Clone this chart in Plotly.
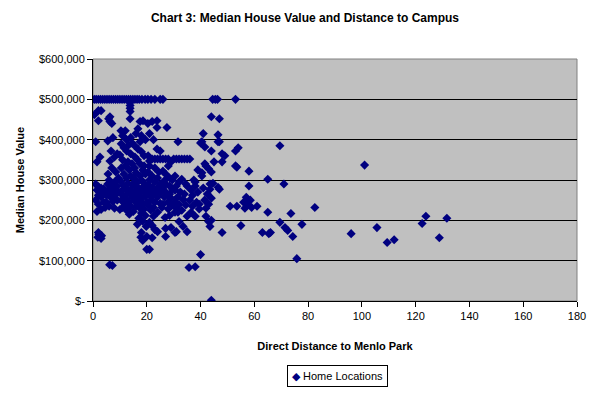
import plotly.graph_objects as go

# ---- data (distance in miles, median value in $1000s) ----
dist_top = [0.5, 1.2, 2, 2.8, 3.6, 4.4, 5.2, 6, 6.8, 7.6, 8.4, 9.2, 10, 10.8, 11.6, 12.4,
            13.2, 14, 14.8, 15.6, 16.4, 17.2, 18.2, 19.4, 20.4, 21.6, 23, 25, 26, 44.5, 45.5, 46.3, 53]
val_top = [500] * len(dist_top)

dist_a = [2, 3, 2, 0.5, 1, 2.6, 1.5, 1, 2, 3, 4, 1.5, 2.5, 3.5, 4.5, 2, 3, 1, 4, 2, 3, 4.5, 1.5,
          2, 2.6, 1.8, 3.2, 2.2, 3]
val_a = [472, 472, 447, 462, 395, 357, 345, 290, 283, 280, 278, 275, 270, 268, 272, 262, 258, 250,
         245, 240, 227, 232, 222, 170, 160, 158, 162, 165, 155]

dist_b = [6.3, 6.3, 5.8, 7, 5.5, 7.4, 6.7, 8, 6.3, 9, 5.6, 7, 8.5, 9.5, 6, 8, 5.5, 7, 9, 6, 7.5,
          8.5, 9.5, 5, 6.5, 8, 7.4, 5, 9, 6, 8, 10, 6.2, 7.2]
val_b = [457, 445, 452, 440, 397, 405, 372, 357, 347, 365, 315, 330, 320, 305, 300, 295, 290, 285,
         285, 275, 270, 275, 270, 262, 258, 262, 247, 245, 250, 235, 230, 227, 90, 88]

dist_c = [13.8, 13.8, 13.8, 13.8, 13.8, 10.4, 12, 14, 11, 12.5, 10.5, 13, 14.5, 11.5, 12.5, 10, 14,
          11, 13, 12, 14.5, 10.5, 13.5, 11.5, 14, 12.5, 10.4, 13, 14.5, 11.5, 12.5, 10.5, 14, 13,
          11, 12, 14.5, 10.5, 13.5, 12, 11, 14, 12.5, 13.5]
val_c = [492, 485, 478, 470, 452, 422, 422, 405, 410, 400, 390, 385, 392, 380, 372, 362, 365, 350,
         345, 335, 340, 330, 325, 315, 310, 305, 297, 292, 288, 285, 278, 272, 275, 268, 262, 255,
         258, 250, 245, 240, 232, 235, 225, 215]

dist_d = [17.5, 18.6, 16.7, 16, 18, 15.6, 16.7, 19, 17.5, 19.5, 15.5, 18, 16.5, 17.5, 19, 15.5,
          18.5, 16, 17.5, 19.5, 15, 18, 16.5, 19, 15.5, 17, 18.5, 20, 16, 17.5, 19, 15, 16.8, 18.2,
          19.6, 15.5, 17, 18.5, 20, 16, 17.5, 19, 15, 18, 19.5, 17, 18.5, 16.5, 19.8, 18, 20, 17.8,
          18.5]
val_d = [445, 447, 427, 415, 410, 357, 377, 360, 395, 400, 385, 370, 350, 340, 335, 330, 325, 318,
         310, 315, 305, 300, 295, 292, 285, 280, 282, 280, 270, 268, 272, 262, 258, 255, 260, 248,
         245, 242, 245, 235, 230, 228, 222, 218, 212, 205, 198, 190, 185, 170, 160, 158, 150]

dist_e = [20.4, 22, 23.8, 23.8, 21, 22.5, 23.8, 25, 21, 20.5, 22, 23, 24, 25, 21, 23, 24.5, 20.5,
          22, 24, 21, 23, 25, 20.5, 22, 24, 21, 23, 25, 20.5, 22, 24, 21.5, 23, 25, 20.5, 22.5,
          25.6, 21.5, 24, 21, 22, 23, 24, 22, 21, 20, 22.5]
val_e = [440, 445, 447, 430, 415, 400, 377, 372, 347, 360, 352, 352, 352, 352, 335, 330, 320, 320,
         310, 305, 300, 295, 290, 288, 282, 280, 275, 270, 268, 265, 260, 258, 250, 245, 242, 238,
         232, 232, 225, 220, 195, 187, 177, 172, 157, 128, 128, 210]

dist_f = [27.5, 26, 27, 28, 26, 28, 29, 27, 28.5, 26.5, 29.5, 27, 28.5, 26, 29.5, 27, 28.5, 26.5,
          29, 27.8, 26, 29.5, 28, 26.8, 29, 27, 27, 28.5]
val_f = [430, 352, 352, 352, 322, 335, 345, 315, 305, 298, 300, 290, 285, 280, 278, 270, 265, 258,
         255, 245, 240, 238, 228, 207, 182, 180, 160, 212]

dist_g = [30, 31, 32, 33, 34, 35, 36, 31.6, 30.5, 33, 32, 34.5, 31, 35, 30.5, 32.5, 34, 31.5, 33.5,
          30.5, 32, 34.5, 31, 33, 30.5, 35, 32, 31.6, 31, 30.5, 35, 33.5]
val_g = [352, 352, 352, 352, 352, 352, 352, 395, 310, 302, 295, 290, 285, 285, 275, 270, 265, 258,
         252, 245, 240, 238, 230, 225, 220, 210, 197, 220, 172, 170, 172, 185]

dist_h = [38, 36.5, 38, 37, 39, 36, 38.5, 37, 39.5, 36.5, 38, 40, 40.5, 40.5, 40, 35.7, 38, 39.5,
          37.5, 39]
val_h = [295, 275, 285, 262, 270, 250, 245, 235, 228, 220, 210, 392, 395, 310, 115, 83, 85, 240,
         300, 325]

dist_i = [41, 41.6, 44, 44, 41.6, 42, 43, 40.5, 44, 45, 44.6, 43.5, 43.5, 41, 42.5, 44, 41.5, 43,
          42, 43, 43.5, 44, 42, 44]
val_i = [415, 382, 457, 372, 340, 335, 328, 318, 320, 345, 292, 290, 277, 280, 265, 255, 250, 240,
         230, 197, 185, 200, 210, 2]

dist_j = [47, 46.5, 46.5, 47, 48, 49, 53, 54, 48, 53, 53.5, 47, 46.5, 48, 51, 53.5, 58, 58, 57, 56,
          57.5, 58.5, 59, 61, 55, 63, 66, 65, 65, 56.5]
val_j = [452, 412, 395, 395, 365, 360, 372, 380, 345, 335, 332, 277, 282, 170, 235, 235, 322, 285,
         257, 245, 240, 250, 232, 235, 187, 170, 170, 302, 220, 230]

dist_k = [69.5, 101, 71, 73.6, 82.5, 69.5, 71.4, 72.4, 77.7, 65.4, 74.3, 75.8, 96, 105.6, 109.4,
          112, 122.4, 123.8, 128.8, 131.6]
val_k = [385, 337, 290, 217, 232, 195, 182, 175, 190, 167, 160, 105, 167, 182, 145, 152, 192, 210,
         157, 205]

distance = (dist_top + dist_a + dist_b + dist_c + dist_d + dist_e + dist_f + dist_g + dist_h
            + dist_i + dist_j + dist_k)
value_k = (val_top + val_a + val_b + val_c + val_d + val_e + val_f + val_g + val_h + val_i
           + val_j + val_k)
median_value = [v * 1000 for v in value_k]

y_tickvals = [0, 100000, 200000, 300000, 400000, 500000, 600000]
y_ticktext = ["$-", "$100,000", "$200,000", "$300,000", "$400,000", "$500,000", "$600,000"]
x_tickvals = [0, 20, 40, 60, 80, 100, 120, 140, 160, 180]
series_name = "Home Locations"

FONT = "Liberation Sans, Arial, sans-serif"
NAVY = "#000080"

fig = go.Figure()
fig.add_trace(go.Scatter(
    x=distance, y=median_value, mode="markers", name=series_name, showlegend=False,
    marker=dict(symbol="diamond", size=7, color=NAVY, line=dict(width=0)),
))

# page body has an 8px margin, so the figure is sized/offset to compensate
fig.update_layout(
    width=597, height=385,
    margin=dict(l=85, r=28, t=51, b=92, autoexpand=False),
    paper_bgcolor="white", plot_bgcolor="#C0C0C0",
    font=dict(family=FONT, size=11, color="black"),
    title=dict(text="<b>Chart 3: Median House Value and Distance to Campus</b>",
               x=0.4975, xref="container", xanchor="center", y=0.975, yref="container",
               yanchor="middle", automargin=False,
               font=dict(family=FONT, size=12, color="black")),
    xaxis=dict(range=[0, 180], tickvals=x_tickvals, ticks="outside", ticklen=5,
               tickcolor="black", showline=True, linecolor="black", linewidth=1,
               showgrid=False, zeroline=False, automargin=False,
               title=dict(text="<b>Direct Distance to Menlo Park</b>", standoff=21,
                          font=dict(family=FONT, size=11, color="black"))),
    yaxis=dict(range=[0, 600000], tickvals=y_tickvals, ticktext=y_ticktext, ticks="outside",
               ticklen=5, tickcolor="black", showline=True, linecolor="black", linewidth=1,
               showgrid=True, gridcolor="black", gridwidth=1, zeroline=False, automargin=False,
               title=dict(text="<b>Median House Value</b>", standoff=12,
                          font=dict(family=FONT, size=11, color="black"))),
    shapes=[dict(type="rect", xref="paper", yref="paper", x0=0, x1=1, y0=0, y1=1,
                 line=dict(color="#808080", width=1), layer="below")],
    annotations=[dict(text=f"<span style='color:{NAVY}'>◆</span> {series_name}",
                      xref="paper", yref="paper", x=0.506, y=-0.31, xanchor="center",
                      yanchor="middle", showarrow=False, bordercolor="black", borderwidth=1,
                      borderpad=4, bgcolor="white",
                      font=dict(family=FONT, size=11, color="black"))],
)

fig.write_html("out.html")
